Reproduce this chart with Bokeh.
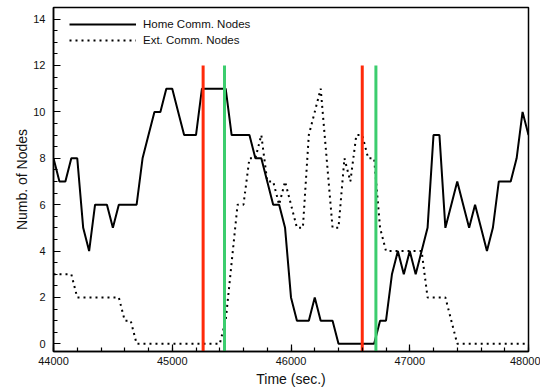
from bokeh.plotting import figure
from bokeh.models import (ColumnDataSource, Legend, LegendItem, SingleIntervalTicker, Range1d)
from bokeh.embed import file_html
from bokeh.resources import INLINE

# ---- data ----
time_sec = [44000, 44050, 44100, 44150, 44200, 44250, 44300, 44350, 44400, 44450,
            44500, 44550, 44600, 44650, 44700, 44750, 44800, 44850, 44900, 44950,
            45000, 45050, 45100, 45150, 45200, 45250, 45300, 45350, 45400, 45450,
            45500, 45550, 45600, 45650, 45700, 45750, 45800, 45850, 45900, 45950,
            46000, 46050, 46100, 46150, 46200, 46250, 46300, 46350, 46400, 46450,
            46500, 46550, 46600, 46650, 46700, 46750, 46800, 46850, 46900, 46950,
            47000, 47050, 47100, 47150, 47200, 47250, 47300, 47350, 47400, 47450,
            47500, 47550, 47600, 47650, 47700, 47750, 47800, 47850, 47900, 47950,
            48000]

home_nodes = [8, 7, 7, 8, 8, 5, 4, 6, 6, 6,
              5, 6, 6, 6, 6, 8, 9, 10, 10, 11,
              11, 10, 9, 9, 9, 11, 11, 11, 11, 11,
              9, 9, 9, 9, 8, 8, 7, 6, 6, 5,
              2, 1, 1, 1, 2, 1, 1, 1, 0, 0,
              0, 0, 0, 0, 0, 1, 1, 3, 4, 3,
              4, 3, 4, 5, 9, 9, 5, 6, 7, 6,
              5, 6, 5, 4, 5, 7, 7, 7, 8, 10,
              9]

ext_nodes = [3, 3, 3, 3, 2, 2, 2, 2, 2, 2,
             2, 2, 1, 1, 0, 0, 0, 0, 0, 0,
             0, 0, 0, 0, 0, 0, 0, 0, 0, 1,
             3.5, 6, 6, 8, 8, 9, 7, 7, 6, 7,
             6, 5, 5, 9, 10, 11, 8, 5, 5, 8,
             7, 9, 9, 8, 8, 5, 4, 4, 4, 4,
             4, 4, 4, 2, 2, 2, 2, 1, 0, 0,
             0, 0, 0, 0, 0, 0, 0, 0, 0, 0,
             0]

red_marks = [45260, 46600]
green_marks = [45440, 46715]
mark_top = 12

x_start, x_end = 44000, 48000
y_start, y_end = -0.33, 14.5

FONT = "Liberation Sans"

src = ColumnDataSource(dict(t=time_sec, home=home_nodes, ext=ext_nodes))

p = figure(width=540, height=389, output_backend="svg", toolbar_location=None,
           x_range=Range1d(x_start, x_end), y_range=Range1d(y_start, y_end),
           min_border_left=53, min_border_right=12, min_border_top=7,
           min_border_bottom=38)

p.xgrid.grid_line_color = None
p.ygrid.grid_line_color = None
p.outline_line_color = "black"
p.outline_line_width = 1.5
p.outline_line_alpha = 1.0

r_home = p.line("t", "home", source=src, line_color="black", line_width=2)
r_ext = p.line("t", "ext", source=src, line_color="black", line_width=2,
               line_dash="2 4")

p.segment(x0=red_marks, x1=red_marks, y0=[y_start] * len(red_marks),
          y1=[mark_top] * len(red_marks), line_color="#ff2a0a", line_width=3)
p.segment(x0=green_marks, x1=green_marks, y0=[y_start] * len(green_marks),
          y1=[mark_top] * len(green_marks), line_color="#3ccd6e", line_width=3)

p.xaxis.ticker = SingleIntervalTicker(interval=1000, num_minor_ticks=5)
p.yaxis.ticker = SingleIntervalTicker(interval=2, num_minor_ticks=4)

for ax in (p.xaxis, p.yaxis):
    ax.axis_line_color = "black"
    ax.axis_line_width = 1.5
    ax.major_tick_in = 7
    ax.major_tick_out = 0
    ax.minor_tick_in = 4
    ax.minor_tick_out = 0
    ax.major_tick_line_color = "black"
    ax.minor_tick_line_color = "black"
    ax.major_tick_line_width = 1.2
    ax.minor_tick_line_width = 1.2
    ax.major_label_text_font = FONT
    ax.major_label_text_font_size = "11px"
    ax.major_label_text_color = "#111111"
    ax.axis_label_text_font = FONT
    ax.axis_label_text_font_size = "14px"
    ax.axis_label_text_font_style = "normal"
    ax.axis_label_text_color = "#111111"

p.xaxis.axis_label = "Time (sec.)"
p.yaxis.axis_label = "Numb. of Nodes"
p.xaxis.major_label_standoff = 5
p.xaxis.axis_label_standoff = 3
p.yaxis.major_label_standoff = 8
p.yaxis.axis_label_standoff = 0

legend = Legend(items=[LegendItem(label="Home Comm. Nodes", renderers=[r_home]),
                       LegendItem(label="Ext. Comm. Nodes", renderers=[r_ext])],
                location=(16, 303), padding=0, margin=0, spacing=0,
                glyph_width=67, glyph_height=16, label_height=16,
                label_standoff=7, label_text_font=FONT,
                label_text_font_size="11.5px", label_text_color="#111111",
                border_line_color=None, background_fill_alpha=0)
p.add_layout(legend)

open("out.html", "w").write(file_html(p, INLINE))
